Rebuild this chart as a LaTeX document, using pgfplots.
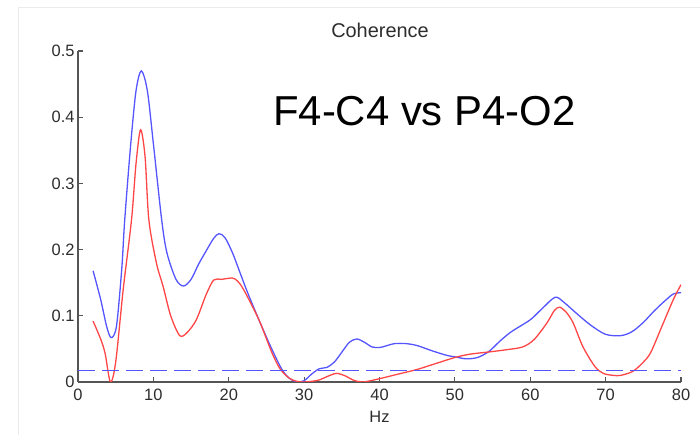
\documentclass[border=0pt]{standalone}
\usepackage{fontspec}
\setmainfont{Liberation Sans}
\usepackage{pgfplots}
\pgfplotsset{compat=1.18}
\definecolor{myblue}{RGB}{85,85,255}
\definecolor{myred}{RGB}{255,70,70}
\definecolor{axgray}{RGB}{85,85,85}
\definecolor{lblgray}{RGB}{45,45,45}
\begin{document}
\begin{tikzpicture}[x=1bp,y=1bp]
\path[use as bounding box] (-78,-53) rectangle (622,382);
\draw[black!8, line width=0.8bp] (-60,-53) -- (-60,375) -- (622,375);
\begin{axis}[at={(0,0)}, anchor=south west, scale only axis,
  width=603bp, height=331bp,
  xmin=0, xmax=80, ymin=0, ymax=0.5,
  axis x line*=bottom, axis y line*=left,
  axis line style={-, axgray, line width=1.3bp},
  tick style={axgray, line width=1.2bp},
  tick align=inside, major tick length=5bp,
  xtick={0,10,20,30,40,50,60,70,80},
  ytick={0,0.1,0.2,0.3,0.4,0.5},
  /pgf/number format/assume math mode=true,
  tick label style={font=\fontsize{16.5}{18}\selectfont, text=lblgray},
  yticklabel style={/pgf/number format/fixed, /pgf/number format/precision=1},
  xticklabel style={yshift=-4bp},
  xlabel={Hz},
  xlabel style={at={(axis description cs:0.5,0)}, anchor=north, yshift=-29bp, inner sep=0pt, font=\fontsize{16.5}{18}\selectfont, text=lblgray},
]
\addplot[myblue, line width=1.3bp, smooth, tension=0.5] coordinates {
(2,0.168) (3,0.125) (3.8,0.084) (4.4,0.067) (5.1,0.084) (5.8,0.17) (6.2,0.245)
(7,0.36) (7.7,0.44) (8.4,0.470) (9.2,0.44) (10,0.36) (11.1,0.245) (11.8,0.195)
(13,0.155) (14,0.145) (15,0.155) (16,0.178) (17,0.198) (18,0.217) (18.7,0.224)
(19.5,0.218) (20.5,0.195) (21.5,0.165) (22.5,0.135) (24,0.094) (25.5,0.055)
(27,0.02) (28,0.006) (29,0.0) (30,0.002) (31,0.012) (32,0.02) (33,0.022)
(34,0.03) (35,0.045) (36,0.06) (37,0.065) (38,0.06) (39,0.053) (40,0.052)
(41,0.055) (42,0.058) (43.5,0.058) (45,0.055) (47,0.047) (49,0.04) (50,0.038)
(51.5,0.035) (53,0.037) (54.5,0.046) (56,0.062) (57.5,0.076) (60,0.094)
(61.5,0.11) (63.3,0.128) (64.5,0.12) (66,0.105) (68,0.086) (70,0.072)
(72,0.07) (73.5,0.076) (75,0.09) (76.5,0.108) (78,0.124) (79,0.133) (80,0.135)
};
\addplot[myred, line width=1.3bp, smooth, tension=0.5] coordinates {
(2,0.092) (3,0.065) (3.6,0.043) (4.3,0.0) (5,0.03) (6,0.14) (7.1,0.245)
(7.7,0.33) (8.3,0.381) (8.9,0.34) (9.4,0.245) (10.4,0.18) (11.3,0.144)
(12.3,0.1) (13.5,0.07) (14.5,0.075) (15.7,0.094) (17,0.132) (18,0.154)
(19,0.155) (20.5,0.157) (21.2,0.152) (22,0.139) (24,0.094) (25.7,0.045)
(26.8,0.02) (28,0.006) (29,0.001) (30,0) (31,0.001) (32,0.003) (33,0.008)
(34.3,0.013) (35.5,0.009) (36.5,0.003) (37.8,0.0) (40,0.005) (42.5,0.012)
(45,0.019) (47.5,0.028) (50,0.037) (52,0.042) (55,0.046) (57,0.049)
(59,0.053) (60.5,0.064) (62.2,0.089) (63.2,0.108) (63.9,0.113) (64.8,0.105)
(65.7,0.089) (67,0.053) (68.6,0.023) (69.7,0.013) (71,0.01) (72,0.01)
(73.6,0.016) (75,0.03) (76,0.045) (77.5,0.085) (79,0.125) (80,0.147)
};
\addplot[myblue, line width=1.3bp, dash pattern=on 17bp off 7bp] coordinates {(0,0.017) (80,0.017)};
\end{axis}
\node[anchor=north, inner sep=0pt, text=lblgray, font=\fontsize{20}{24}\selectfont] at (302,359) {Coherence};
\node[anchor=base west, inner sep=0pt, font=\fontsize{42}{48}\selectfont] at (195,256) {F4-C4 vs P4-O2};
\end{tikzpicture}
\end{document}
